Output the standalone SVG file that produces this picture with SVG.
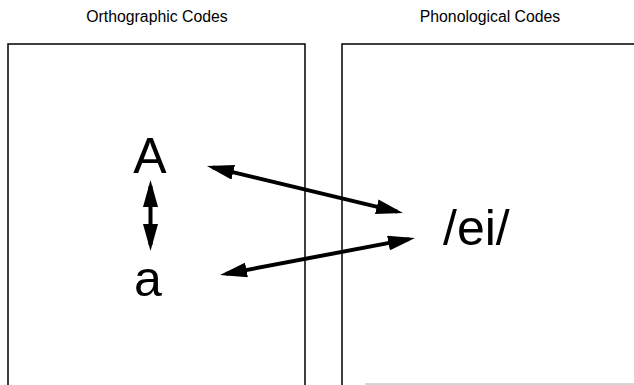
<svg xmlns="http://www.w3.org/2000/svg" width="634" height="385" viewBox="0 0 634 385">
<style>
.title{font-family:"Liberation Sans",Arial,sans-serif;font-size:15.8px;fill:#000;text-anchor:middle}
.code{font-family:"Liberation Sans",Arial,sans-serif;font-size:50px;fill:#000}
.box{fill:none;stroke:#000;stroke-width:1.5}
.arrow{stroke:#000;stroke-width:4;fill:none;marker-start:url(#head);marker-end:url(#head)}
</style>
<defs>
<marker id="head" viewBox="0 0 27 15" refX="21" refY="7.5" markerWidth="27" markerHeight="15" markerUnits="userSpaceOnUse" orient="auto-start-reverse">
<path d="M0,0 L27,7.5 L0,15 Z" fill="#000"/>
</marker>
</defs>
<rect width="634" height="385" fill="#fff"/>
<text class="title" x="157" y="22">Orthographic Codes</text>
<text class="title" x="490" y="22">Phonological Codes</text>
<g id="ortho-box">
<path class="box" d="M8,385 V44 H305 V385"/>
</g>
<g id="phono-box">
<path class="box" d="M342,385 V44 H634"/>
<line x1="365" y1="384" x2="634" y2="384" stroke="#c8c8c8" stroke-width="1.5"/>
</g>
<g id="node-A"><text class="code" x="150" y="173" text-anchor="middle">A</text></g>
<g id="node-a"><text class="code" x="148" y="296" text-anchor="middle">a</text></g>
<g id="node-ei"><text class="code" x="443" y="245">/ei/</text></g>
<g id="connectors">
<line class="arrow" x1="212.8" y1="167.4" x2="397.2" y2="211.6"/>
<line class="arrow" x1="225.9" y1="273.9" x2="409.1" y2="239.1"/>
<line class="arrow" x1="150.5" y1="186" x2="150.5" y2="245"/>
</g>
</svg>
